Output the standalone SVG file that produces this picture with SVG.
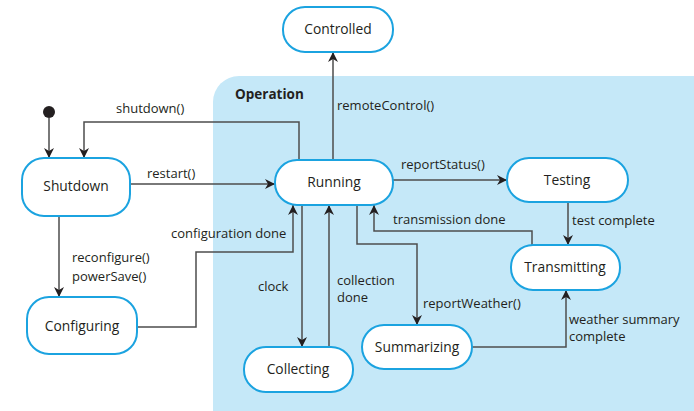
<svg xmlns="http://www.w3.org/2000/svg" width="694" height="411" viewBox="0 0 694 411">
<style>
.node{fill:#fff;stroke:#1ba3e0;stroke-width:2}
.nt{font-family:"Open Sans","Liberation Sans",sans-serif;font-size:13.8px;fill:#231f20;text-anchor:middle}
.lb{font-family:"Open Sans","Liberation Sans",sans-serif;font-size:13px;fill:#231f20}
.ln{fill:none;stroke:#4d4d4d;stroke-width:1.5;marker-end:url(#ah)}
</style>
<defs>
<marker id="ah" viewBox="0 0 10 10" refX="10" refY="5" markerWidth="10" markerHeight="10" markerUnits="userSpaceOnUse" orient="auto">
<path d="M0,0 L10,5 L0,10 L3,5 z" fill="#231f20"/>
</marker>
</defs>
<rect x="0" y="0" width="694" height="411" fill="#fff"/>
<g id="operation">
<rect x="213" y="76" width="510" height="360" rx="26" fill="#c5e8f8"/>
<text x="235" y="99" font-family="Open Sans,Liberation Sans,sans-serif" font-size="13.5" font-weight="bold" fill="#231f20">Operation</text>
</g>
<g id="connectors">
<line class="ln" x1="49" y1="118" x2="49" y2="158"/>
<polyline class="ln" points="299,160 299,122 84,122 84,158"/>
<line class="ln" x1="130" y1="184" x2="275" y2="184"/>
<line class="ln" x1="333" y1="160" x2="333" y2="52"/>
<line class="ln" x1="393" y1="180" x2="507" y2="180"/>
<line class="ln" x1="568" y1="202" x2="568" y2="245"/>
<polyline class="ln" points="532,245 532,231 374,231 374,205"/>
<polyline class="ln" points="357,205 357,244 417,244 417,325"/>
<polyline class="ln" points="472,347 566,347 566,290"/>
<line class="ln" x1="302" y1="205" x2="302" y2="347"/>
<line class="ln" x1="329" y1="347" x2="329" y2="205"/>
<polyline class="ln" points="137,327 196,327 196,252 293,252 293,205"/>
<line class="ln" x1="59" y1="216" x2="59" y2="297"/>
<text class="lb" x="116" y="113">shutdown()</text>
<text class="lb" x="147" y="178">restart()</text>
<text class="lb" x="337" y="110">remoteControl()</text>
<text class="lb" x="401" y="169">reportStatus()</text>
<text class="lb" x="572" y="225">test complete</text>
<text class="lb" x="393" y="224">transmission done</text>
<text class="lb" x="423" y="308">reportWeather()</text>
<text class="lb" x="569" y="324" font-size="12.5">weather summary<tspan x="569" dy="17">complete</tspan></text>
<text class="lb" x="337" y="285" font-size="12.5">collection<tspan x="337" dy="17">done</tspan></text>
<text class="lb" x="258" y="291">clock</text>
<text class="lb" x="171" y="238">configuration done</text>
<text class="lb" x="72" y="262">reconfigure()<tspan x="72" dy="19">powerSave()</tspan></text>
</g>
<g id="initial"><circle cx="49" cy="112" r="6" fill="#231f20"/></g>
<g id="controlled"><rect class="node" x="283" y="7" width="110" height="45" rx="22"/><text class="nt" x="338" y="34">Controlled</text></g>
<g id="shutdown"><rect class="node" x="22" y="158" width="108" height="58" rx="22"/><text class="nt" x="76" y="191">Shutdown</text></g>
<g id="running"><rect class="node" x="275" y="160" width="118" height="45" rx="22"/><text class="nt" x="334" y="187">Running</text></g>
<g id="testing"><rect class="node" x="507" y="158" width="121" height="44" rx="22"/><text class="nt" x="567" y="185">Testing</text></g>
<g id="transmitting"><rect class="node" x="511" y="245" width="109" height="45" rx="22"/><text class="nt" x="565" y="272">Transmitting</text></g>
<g id="summarizing"><rect class="node" x="362" y="325" width="110" height="44" rx="22"/><text class="nt" x="417" y="352">Summarizing</text></g>
<g id="collecting"><rect class="node" x="244" y="347" width="109" height="45" rx="22"/><text class="nt" x="298" y="374">Collecting</text></g>
<g id="configuring"><rect class="node" x="27" y="297" width="110" height="57" rx="22"/><text class="nt" x="82" y="331">Configuring</text></g>
</svg>
